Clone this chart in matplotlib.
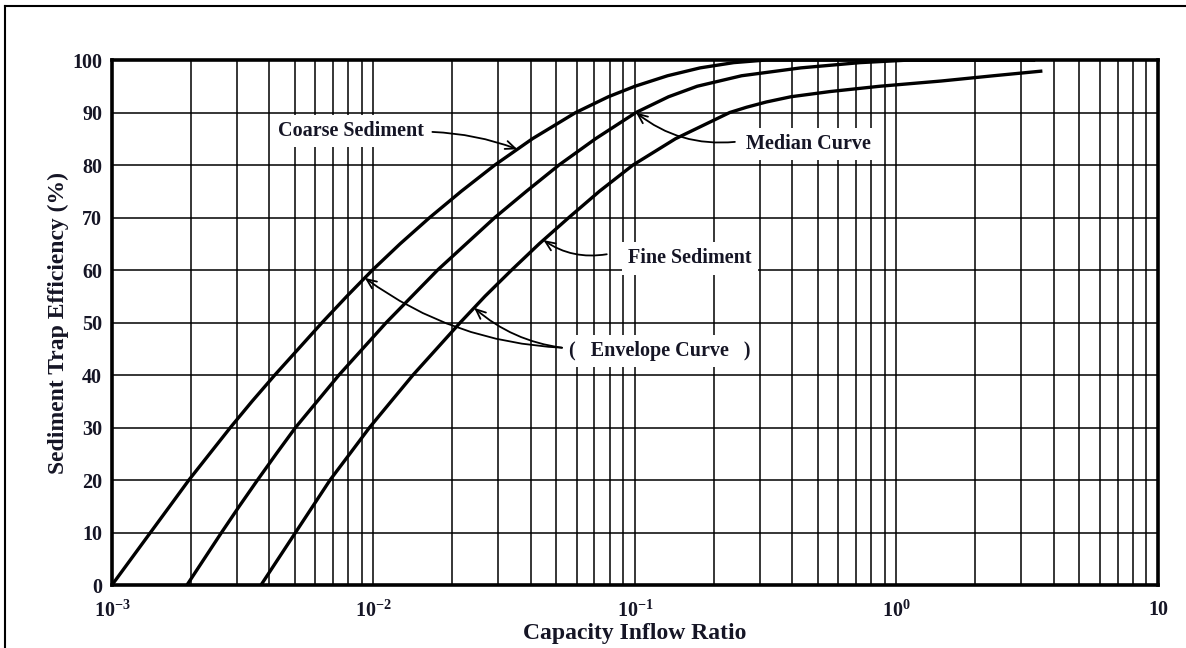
import numpy as np
import matplotlib.pyplot as plt
from matplotlib.lines import Line2D
from matplotlib.ticker import FixedLocator, LogLocator, NullFormatter

# Trap efficiency curves (capacity/inflow ratio -> % trapped)
coarse_x = [0.001, 0.0011848, 0.0014035, 0.0016628, 0.001969, 0.002363, 0.002837,
            0.003435, 0.004195, 0.005168, 0.006365, 0.00791, 0.009913, 0.01265,
            0.01641, 0.02167, 0.02912, 0.04052, 0.05937, 0.0791, 0.1, 0.1332,
            0.1775, 0.2385, 0.3177, 3.39]
coarse_y = [0, 5, 10, 15, 20, 25, 30, 35, 40, 45, 50, 55, 60, 65, 70, 75, 80, 85,
            90, 93, 95, 97, 98.5, 99.5, 100, 100]

median_x = [0.001936, 0.0022535, 0.002624, 0.0030674, 0.0036028, 0.0042498, 0.0050336,
            0.006095, 0.0073799, 0.0090896, 0.011196, 0.014035, 0.017592, 0.022629,
            0.02912, 0.038448, 0.051216, 0.070641, 0.10087, 0.1344, 0.1729, 0.2556,
            0.4305, 0.7253, 1.127, 3.39]
median_y = [0, 5, 10, 15, 20, 25, 30, 35, 40, 45, 50, 55, 60, 65, 70, 75, 80, 85,
            90, 93, 95, 97, 98.5, 99.5, 100, 100]

fine_x = [0.003715, 0.0043244, 0.0050336, 0.0058611, 0.006823, 0.008121, 0.009658,
          0.01169, 0.01416, 0.01744, 0.02148, 0.026699, 0.033754, 0.043045, 0.055878,
          0.073135, 0.098276, 0.14282, 0.23032, 0.26699, 0.31763, 0.39467, 0.55878,
          0.86289, 1.4835, 2.3477, 3.613]
fine_y = [0, 5, 10, 15, 20, 25, 30, 35, 40, 45, 50, 55, 60, 65, 70, 75, 80, 85,
          90, 91, 92, 93, 94, 95, 96, 97, 97.9]

x_ticks = [1e-3, 1e-2, 1e-1, 1, 10]
x_tick_labels = [r'$10^{-3}$', r'$10^{-2}$', r'$10^{-1}$', r'$10^{0}$', '10']
y_ticks = list(range(0, 101, 10))

TXT = '#151525'
plt.rcParams['font.family'] = 'Liberation Serif'
plt.rcParams['font.weight'] = 'bold'
plt.rcParams['mathtext.fontset'] = 'custom'
plt.rcParams['mathtext.rm'] = 'Liberation Serif:bold'
plt.rcParams['mathtext.it'] = 'Liberation Serif:bold'
plt.rcParams['mathtext.bf'] = 'Liberation Serif:bold'

fig = plt.figure(figsize=(11.86, 6.48), dpi=100)
ax = fig.add_axes([0.0944, 0.0972, 0.8820, 0.8102])

ax.set_xscale('log')
ax.set_xlim(1e-3, 10)
ax.set_ylim(0, 100)

# grid: every 1..9 in each decade, every 10 % vertically
ax.xaxis.set_major_locator(FixedLocator(x_ticks))
ax.xaxis.set_minor_locator(LogLocator(base=10, subs=np.arange(2, 10)))
ax.xaxis.set_minor_formatter(NullFormatter())
ax.set_xticklabels(x_tick_labels)
ax.set_yticks(y_ticks)
ax.grid(True, which='both', axis='x', color='black', linewidth=1.1, zorder=1)
ax.grid(True, which='major', axis='y', color='black', linewidth=1.1, zorder=1)
ax.set_axisbelow(True)
ax.tick_params(which='both', length=0)
ax.tick_params(axis='x', pad=11, labelsize=14.5, labelcolor=TXT)
ax.tick_params(axis='y', pad=7, labelsize=14.5, labelcolor=TXT)
for s in ax.spines.values():
    s.set_linewidth(2.6)

for xs, ys in [(coarse_x, coarse_y), (median_x, median_y), (fine_x, fine_y)]:
    ax.plot(xs, ys, color='black', linewidth=2.4, solid_capstyle='butt',
            solid_joinstyle='round', zorder=3)

ax.set_xlabel('Capacity Inflow Ratio', fontsize=17, fontweight='bold', color=TXT, labelpad=1)
ax.set_ylabel('Sediment Trap Efficiency (%)', fontsize=17, fontweight='bold', color=TXT, labelpad=2)


def on_curve(xs, ys, y):
    return 10 ** np.interp(y, ys, np.log10(xs))


box = dict(boxstyle='square,pad=0.3', facecolor='white', edgecolor='none')
arrow = dict(arrowstyle='->,head_length=0.7,head_width=0.3', color='black', lw=1.3,
             shrinkA=0, shrinkB=0)

ax.text(8.2e-3, 86.5, 'Coarse Sediment', fontsize=14.5, color=TXT, ha='center', va='center',
        bbox=box, zorder=5)
ax.annotate('', xy=(on_curve(coarse_x, coarse_y, 83), 83), xytext=(0.0168, 86.3),
            arrowprops=dict(arrow, connectionstyle='arc3,rad=-0.08'), zorder=6)

ax.text(0.46, 84.0, 'Median Curve', fontsize=14.5, color=TXT, ha='center', va='center',
        bbox=dict(box, pad=0.45), zorder=5)
ax.annotate('', xy=(on_curve(median_x, median_y, 90), 90), xytext=(0.241, 84.4),
            arrowprops=dict(arrow, connectionstyle='arc3,rad=-0.2'), zorder=6)

ax.text(0.162, 62.2, 'Fine Sediment', fontsize=14.5, color=TXT, ha='center', va='center',
        bbox=dict(box, pad=0.55), zorder=5)
ax.annotate('', xy=(on_curve(fine_x, fine_y, 65.7), 65.7), xytext=(0.078, 63.0),
            arrowprops=dict(arrow, connectionstyle='arc3,rad=-0.2'), zorder=6)

ax.text(0.1247, 44.5, '(   Envelope Curve   )', fontsize=14.5, color=TXT, ha='center',
        va='center', bbox=dict(box, pad=0.45), zorder=5)
ax.annotate('', xy=(on_curve(coarse_x, coarse_y, 58.5), 58.5), xytext=(0.0526, 45.2),
            arrowprops=dict(arrow, connectionstyle='arc3,rad=-0.15'), zorder=6)
ax.annotate('', xy=(on_curve(fine_x, fine_y, 52.8), 52.8), xytext=(0.0526, 45.2),
            arrowprops=dict(arrow, connectionstyle='arc3,rad=-0.15'), zorder=6)

# page frame around the figure
fig.add_artist(Line2D([0.0042, 0.0042], [0, 0.9907], color='black', lw=1.5))
fig.add_artist(Line2D([0.0042, 1.0], [0.9907, 0.9907], color='black', lw=1.5))

fig.savefig('out.png', dpi=100)
